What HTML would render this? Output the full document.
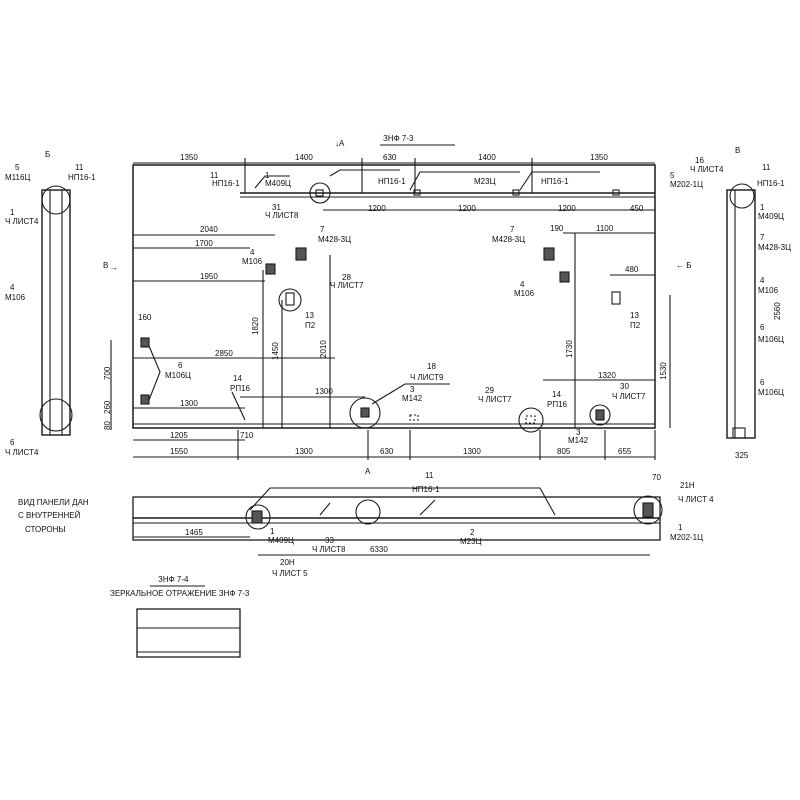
<!DOCTYPE html>
<html><head><meta charset="utf-8"><style>
html,body{margin:0;padding:0;background:#fff;}
svg{display:block}
text{font-family:"Liberation Sans",sans-serif;font-size:8px;fill:#111;stroke:none;}
</style></head><body>
<svg width="800" height="800" viewBox="0 0 800 800" stroke="#1a1a1a" stroke-width="1.1" fill="none">
<text x="383" y="141">ЗНФ 7-3</text>
<line x1="380" y1="145" x2="455" y2="145"/>
<text x="335" y="146">↓A</text>
<rect x="133" y="165" width="522" height="263" stroke-width="1.5"/>
<line x1="133" y1="424" x2="655" y2="424"/>
<line x1="240" y1="193" x2="655" y2="193" stroke-width="1.5"/>
<line x1="240" y1="197" x2="655" y2="197"/>
<line x1="133" y1="163" x2="655" y2="163"/>
<line x1="245" y1="158" x2="245" y2="193"/><line x1="362" y1="158" x2="362" y2="193"/><line x1="415" y1="158" x2="415" y2="193"/><line x1="532" y1="158" x2="532" y2="193"/>
<text x="180" y="160">1350</text><text x="295" y="160">1400</text><text x="383" y="160">630</text><text x="478" y="160">1400</text><text x="590" y="160">1350</text>
<text x="210" y="178">11</text><text x="212" y="186">НП16-1</text>
<text x="265" y="178">1</text><text x="265" y="186">М409Ц</text>
<text x="378" y="184">НП16-1</text><text x="474" y="184">М23Ц</text><text x="541" y="184">НП16-1</text>
<text x="670" y="178">5</text><text x="670" y="187">М202-1Ц</text>
<path d="M255 188 L265 176 L290 176 M330 176 L340 170 L400 170 M410 190 L420 172 L520 172 M520 190 L532 172 L600 172"/>
<circle cx="320" cy="193" r="10"/>
<rect x="316" y="190" width="7" height="6"/><rect x="414" y="190" width="6" height="5"/><rect x="513" y="190" width="6" height="5"/><rect x="613" y="190" width="6" height="5"/>
<line x1="323" y1="210" x2="655" y2="210"/>
<text x="272" y="210">31</text><text x="265" y="218">Ч ЛИСТ8</text>
<text x="368" y="211">1200</text><text x="458" y="211">1200</text><text x="558" y="211">1200</text><text x="630" y="211">450</text>
<line x1="133" y1="235" x2="275" y2="235"/><text x="200" y="232">2040</text>
<line x1="133" y1="248" x2="250" y2="248"/><text x="195" y="246">1700</text>
<line x1="133" y1="281" x2="265" y2="281"/><text x="200" y="279">1950</text>
<line x1="133" y1="358" x2="335" y2="358"/><text x="215" y="356">2850</text>
<line x1="133" y1="408" x2="245" y2="408"/><text x="180" y="406">1300</text>
<line x1="240" y1="397" x2="365" y2="397"/><text x="315" y="394">1300</text>
<line x1="263" y1="270" x2="263" y2="428"/><text x="258" y="335" transform="rotate(-90 258 335)">1820</text>
<line x1="282" y1="300" x2="282" y2="428"/><text x="278" y="360" transform="rotate(-90 278 360)">1450</text>
<line x1="330" y1="255" x2="330" y2="428"/><text x="326" y="358" transform="rotate(-90 326 358)">2010</text>
<line x1="575" y1="233" x2="575" y2="428"/><text x="572" y="358" transform="rotate(-90 572 358)">1730</text>
<line x1="670" y1="295" x2="670" y2="428"/><text x="666" y="380" transform="rotate(-90 666 380)">1530</text>
<line x1="563" y1="233" x2="655" y2="233"/><text x="596" y="231">1100</text><text x="550" y="231">190</text>
<line x1="610" y1="275" x2="655" y2="275"/><text x="625" y="272">480</text>
<line x1="543" y1="380" x2="655" y2="380"/><text x="598" y="378">1320</text>
<rect x="296" y="248" width="10" height="12" fill="#555"/><text x="320" y="232">7</text><text x="318" y="242">М428-3Ц</text>
<rect x="544" y="248" width="10" height="12" fill="#555"/><text x="510" y="232">7</text><text x="492" y="242">М428-3Ц</text>
<rect x="266" y="264" width="9" height="10" fill="#555"/><text x="250" y="255">4</text><text x="242" y="264">М106</text>
<rect x="560" y="272" width="9" height="10" fill="#555"/><text x="520" y="287">4</text><text x="514" y="296">М106</text>
<circle cx="290" cy="300" r="11"/><rect x="286" y="293" width="8" height="12"/>
<text x="342" y="280">28</text><text x="330" y="288">Ч ЛИСТ7</text>
<text x="305" y="318">13</text><text x="305" y="328">П2</text>
<rect x="612" y="292" width="8" height="12"/><text x="630" y="318">13</text><text x="630" y="328">П2</text>
<rect x="141" y="338" width="8" height="9" fill="#555"/><rect x="141" y="395" width="8" height="9" fill="#555"/>
<text x="178" y="368">6</text><text x="165" y="378">М106Ц</text>
<path d="M149 346 L160 372 L149 400"/>
<text x="138" y="320">160</text>
<text x="233" y="381">14</text><text x="230" y="391">РП16</text>
<path d="M232 392 L245 420"/>
<circle cx="365" cy="413" r="15"/><rect x="361" y="408" width="8" height="9" fill="#555"/>
<text x="427" y="369">18</text><text x="410" y="380">Ч ЛИСТ9</text>
<text x="410" y="392">3</text><text x="402" y="401">М142</text>
<path d="M372 404 L405 384 L450 384"/>
<circle cx="531" cy="420" r="12"/><rect x="526" y="416" width="9" height="7" stroke-dasharray="2,2"/>
<text x="485" y="393">29</text><text x="478" y="402">Ч ЛИСТ7</text>
<text x="552" y="397">14</text><text x="547" y="407">РП16</text>
<circle cx="600" cy="415" r="10"/><rect x="596" y="410" width="8" height="10" fill="#555"/>
<text x="620" y="389">30</text><text x="612" y="399">Ч ЛИСТ7</text>
<text x="576" y="435">3</text><text x="568" y="443">М142</text>
<rect x="410" y="415" width="8" height="5" stroke-dasharray="2,2"/>
<line x1="111" y1="340" x2="111" y2="430"/>
<text x="110" y="380" transform="rotate(-90 110 380)">700</text>
<text x="110" y="414" transform="rotate(-90 110 414)">260</text>
<text x="110" y="430" transform="rotate(-90 110 430)">80</text>
<text x="103" y="268">B</text><text x="110" y="270">→</text>
<text x="676" y="268">← Б</text>
<line x1="133" y1="440" x2="245" y2="440"/><text x="170" y="438">1205</text><text x="240" y="438">710</text>
<line x1="133" y1="457" x2="655" y2="457"/>
<line x1="238" y1="430" x2="238" y2="460"/><line x1="368" y1="430" x2="368" y2="460"/><line x1="410" y1="430" x2="410" y2="460"/><line x1="540" y1="430" x2="540" y2="460"/><line x1="605" y1="430" x2="605" y2="460"/><line x1="655" y1="430" x2="655" y2="460"/>
<text x="170" y="454">1550</text><text x="295" y="454">1300</text><text x="380" y="454">630</text><text x="463" y="454">1300</text><text x="557" y="454">805</text><text x="618" y="454">655</text>
<text x="45" y="157">Б</text>
<text x="15" y="170">5</text><text x="5" y="180">М116Ц</text>
<text x="75" y="170">11</text><text x="68" y="180">НП16-1</text>
<rect x="42" y="190" width="28" height="245" stroke-width="1.4"/>
<line x1="50" y1="190" x2="50" y2="435"/><line x1="62" y1="190" x2="62" y2="435"/>
<circle cx="56" cy="200" r="14"/><circle cx="56" cy="415" r="16"/>
<text x="10" y="215">1</text><text x="5" y="224">Ч ЛИСТ4</text>
<text x="10" y="290">4</text><text x="5" y="300">М106</text>
<text x="10" y="445">6</text><text x="5" y="455">Ч ЛИСТ4</text>
<text x="735" y="153">В</text>
<text x="695" y="163">16</text><text x="690" y="172">Ч ЛИСТ4</text>
<text x="762" y="170">11</text><text x="757" y="186">НП16-1</text>
<rect x="727" y="190" width="28" height="248" stroke-width="1.4"/>
<line x1="735" y1="190" x2="735" y2="438"/>
<circle cx="742" cy="196" r="12"/><rect x="733" y="428" width="12" height="10"/>
<text x="760" y="210">1</text><text x="758" y="219">М409Ц</text>
<text x="760" y="240">7</text><text x="758" y="250">М428-3Ц</text>
<text x="760" y="283">4</text><text x="758" y="293">М106</text>
<text x="760" y="330">6</text><text x="758" y="342">М106Ц</text>
<text x="760" y="385">6</text><text x="758" y="395">М106Ц</text>
<text x="780" y="320" transform="rotate(-90 780 320)">2560</text>
<text x="735" y="458">325</text>
<text x="365" y="474">A</text>
<text x="18" y="505">ВИД ПАНЕЛИ ДАН</text>
<text x="18" y="518">С ВНУТРЕННЕЙ</text>
<text x="25" y="532">СТОРОНЫ</text>
<rect x="133" y="497" width="527" height="43" stroke-width="1.3"/>
<line x1="133" y1="518" x2="660" y2="518" stroke-width="1.5"/>
<line x1="133" y1="523" x2="660" y2="523"/>
<circle cx="258" cy="517" r="12"/><rect x="252" y="511" width="10" height="12" fill="#555"/>
<circle cx="368" cy="512" r="12"/>
<circle cx="648" cy="510" r="14"/><rect x="643" y="503" width="10" height="14" fill="#555"/>
<path d="M250 510 L270 488 L540 488 L555 515 M320 515 L330 503 M420 515 L435 500"/>
<text x="425" y="478">11</text><text x="412" y="492">НП16-1</text>
<text x="470" y="535">2</text><text x="460" y="544">М23Ц</text>
<line x1="133" y1="537" x2="250" y2="537"/><text x="185" y="535">1465</text>
<text x="270" y="534">1</text><text x="268" y="543">М409Ц</text>
<text x="325" y="543">33</text><text x="312" y="552">Ч ЛИСТ8</text>
<text x="370" y="552">6330</text>
<line x1="258" y1="555" x2="650" y2="555"/>
<text x="280" y="565">20Н</text><text x="272" y="576">Ч ЛИСТ 5</text>
<text x="680" y="488">21Н</text><text x="678" y="502">Ч ЛИСТ 4</text>
<text x="678" y="530">1</text><text x="670" y="540">М202-1Ц</text>
<text x="652" y="480">70</text>
<text x="158" y="582">ЗНФ 7-4</text>
<line x1="150" y1="586" x2="205" y2="586"/>
<text x="110" y="596">ЗЕРКАЛЬНОЕ  ОТРАЖЕНИЕ   ЗНФ 7-3</text>
<rect x="137" y="609" width="103" height="48" stroke-width="1.3"/>
<line x1="137" y1="628" x2="240" y2="628"/>
<line x1="137" y1="652" x2="240" y2="652"/>
</svg>
</body></html>
